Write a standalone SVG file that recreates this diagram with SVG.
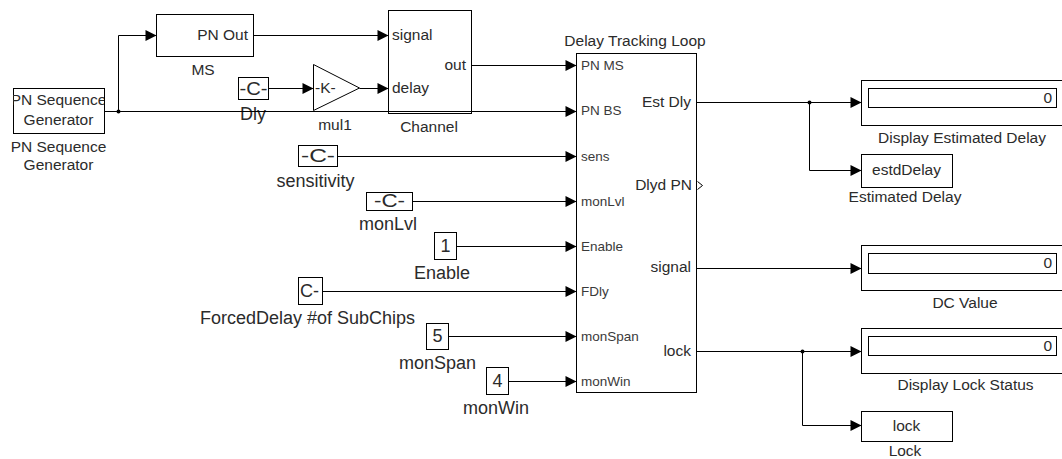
<svg xmlns="http://www.w3.org/2000/svg" width="1062" height="459" viewBox="0 0 1062 459">
<style>
.b{fill:#fff;stroke:#000;stroke-width:1}
.g{fill:none;stroke:#000;stroke-width:1}
.w{fill:none;stroke:#000;stroke-width:1}
text{font-family:"Liberation Sans",Arial,sans-serif;fill:#2b2b2b}
.t{font-size:15.5px}
.lg{font-size:18px}
.p{font-size:13.5px;fill:#3a3a3a}
.m{text-anchor:middle}
.e{text-anchor:end}
</style>
<defs>
<marker id="ar" viewBox="0 0 10 10" refX="10" refY="5" markerWidth="12" markerHeight="11" markerUnits="userSpaceOnUse" orient="auto">
<path d="M0,0 L10,5 L0,10 z" fill="#000"/>
</marker>
<clipPath id="cpg"><rect x="13" y="88" width="91" height="45"/></clipPath>
<clipPath id="cfd"><rect x="298" y="277" width="24" height="27"/></clipPath>
</defs>
<rect width="1062" height="459" fill="#fff"/>

<g id="pngen">
<rect class="b" x="13.5" y="88.5" width="91" height="45"/>
<g clip-path="url(#cpg)">
<text class="t m" x="58.5" y="105">PN Sequence</text>
<text class="t m" x="58.5" y="125">Generator</text>
</g>
<text class="t m" x="58.5" y="152">PN Sequence</text>
<text class="t m" x="58.5" y="170">Generator</text>
</g>

<g id="ms">
<rect class="b" x="156.5" y="14.5" width="97" height="42"/>
<text class="t e" x="248" y="40">PN Out</text>
<text class="t m" x="203" y="75">MS</text>
</g>

<g id="dly">
<rect class="b" x="238.5" y="77.5" width="30" height="22"/>
<text class="lg m" x="253.5" y="95" textLength="28" lengthAdjust="spacingAndGlyphs">-C-</text>
<text class="lg m" x="253" y="120">Dly</text>
</g>

<g id="mul1">
<polygon class="b" points="313.5,64.5 359.5,88 313.5,110.5" stroke="#333"/>
<text class="t" x="315" y="93">-K-</text>
<text class="t m" x="335" y="130">mul1</text>
</g>

<g id="channel">
<rect class="b" x="388.5" y="10.5" width="83" height="103"/>
<text class="t" x="392" y="40">signal</text>
<text class="t" x="392" y="93">delay</text>
<text class="t e" x="466" y="70">out</text>
<text class="t m" x="429" y="132">Channel</text>
</g>

<g id="sensitivity">
<rect class="b" x="298.5" y="145.5" width="39" height="21"/>
<text class="lg m" x="318" y="162" textLength="34" lengthAdjust="spacingAndGlyphs">-C-</text>
<text class="lg m" x="315.5" y="187">sensitivity</text>
</g>

<g id="monlvl">
<rect class="b" x="366.5" y="192.5" width="46" height="18"/>
<text class="lg m" x="389.5" y="207" textLength="31" lengthAdjust="spacingAndGlyphs">-C-</text>
<text class="lg m" x="388" y="230">monLvl</text>
</g>

<g id="enable">
<rect class="b" x="434.5" y="232.5" width="22" height="27"/>
<text class="lg m" x="445.5" y="252">1</text>
<text class="lg m" x="442" y="279">Enable</text>
</g>

<g id="forceddelay">
<rect class="b" x="298.5" y="277.5" width="24" height="27"/>
<text class="lg" x="300" y="297" clip-path="url(#cfd)">C-</text>
<text class="lg m" x="307.5" y="324">ForcedDelay #of SubChips</text>
</g>

<g id="monspan">
<rect class="b" x="426.5" y="323.5" width="22" height="26"/>
<text class="lg m" x="437.5" y="342">5</text>
<text class="lg m" x="437.5" y="369">monSpan</text>
</g>

<g id="monwin">
<rect class="b" x="486.5" y="367.5" width="22" height="27"/>
<text class="lg m" x="497.5" y="387">4</text>
<text class="lg m" x="496" y="414">monWin</text>
</g>

<g id="dtl">
<rect class="b" x="576.5" y="53.5" width="120" height="339"/>
<text class="t m" x="635" y="46">Delay Tracking Loop</text>
<text class="p" x="581" y="70">PN MS</text>
<text class="p" x="581" y="115">PN BS</text>
<text class="p" x="581" y="161">sens</text>
<text class="p" x="581" y="206">monLvl</text>
<text class="p" x="581" y="251">Enable</text>
<text class="p" x="581" y="296">FDly</text>
<text class="p" x="581" y="341">monSpan</text>
<text class="p" x="581" y="386">monWin</text>
<text class="t e" x="691" y="107">Est Dly</text>
<text class="t e" x="692" y="190">Dlyd PN</text>
<text class="t e" x="691" y="272">signal</text>
<text class="t e" x="691" y="356">lock</text>
<polyline class="w" points="697.5,181.5 702.5,185.5 697.5,189.5"/>
</g>

<g id="display_est">
<rect class="b" x="861.5" y="80.5" width="210" height="45"/>
<rect class="b" x="868.5" y="88.5" width="188" height="19"/>
<text class="t e" x="1052" y="103">0</text>
<text class="t m" x="962" y="143">Display Estimated Delay</text>
</g>

<g id="estd">
<rect class="b" x="861.5" y="154.5" width="91" height="33"/>
<text class="t m" x="906.5" y="175">estdDelay</text>
<text class="t m" x="905" y="202">Estimated Delay</text>
</g>

<g id="dcvalue">
<rect class="b" x="861.5" y="245.5" width="210" height="45"/>
<rect class="b" x="868.5" y="253.5" width="188" height="20"/>
<text class="t e" x="1052" y="268">0</text>
<text class="t m" x="965" y="308">DC Value</text>
</g>

<g id="display_lock">
<rect class="b" x="861.5" y="328.5" width="210" height="45"/>
<rect class="b" x="868.5" y="336.5" width="188" height="19"/>
<text class="t e" x="1052" y="351">0</text>
<text class="t m" x="965.5" y="390">Display Lock Status</text>
</g>

<g id="lockblk">
<rect class="b" x="861.5" y="411.5" width="91" height="30"/>
<text class="t m" x="906.5" y="431">lock</text>
<text class="t m" x="905" y="456">Lock</text>
</g>

<g id="connectors" class="w">
<path class="w" d="M104.5,111.5 H118.5 V35.5 H156.5" marker-end="url(#ar)"/>
<path class="w" d="M104.5,111.5 H576.5" marker-end="url(#ar)"/>
<path class="w" d="M253.5,35.5 H388.5" marker-end="url(#ar)"/>
<path class="w" d="M268.5,88.5 H313.5" marker-end="url(#ar)"/>
<path class="w" d="M359.5,88.5 H388.5" marker-end="url(#ar)"/>
<path class="w" d="M471.5,65.5 H576.5" marker-end="url(#ar)"/>
<path class="w" d="M337.5,156.5 H576.5" marker-end="url(#ar)"/>
<path class="w" d="M412.5,201.5 H576.5" marker-end="url(#ar)"/>
<path class="w" d="M456.5,246.5 H576.5" marker-end="url(#ar)"/>
<path class="w" d="M322.5,291.5 H576.5" marker-end="url(#ar)"/>
<path class="w" d="M448.5,336.5 H576.5" marker-end="url(#ar)"/>
<path class="w" d="M508.5,381.5 H576.5" marker-end="url(#ar)"/>
<path class="w" d="M696.5,102.5 H861.5" marker-end="url(#ar)"/>
<path class="w" d="M809.5,102.5 V170.5 H861.5" marker-end="url(#ar)"/>
<path class="w" d="M696.5,268.5 H861.5" marker-end="url(#ar)"/>
<path class="w" d="M696.5,351.5 H861.5" marker-end="url(#ar)"/>
<path class="w" d="M802.5,351.5 V425.5 H861.5" marker-end="url(#ar)"/>
<circle cx="118.5" cy="111.5" r="2" fill="#000" stroke="none"/>
<circle cx="809.5" cy="102.5" r="2" fill="#000" stroke="none"/>
<circle cx="802.5" cy="351.5" r="2" fill="#000" stroke="none"/>
</g>
</svg>
